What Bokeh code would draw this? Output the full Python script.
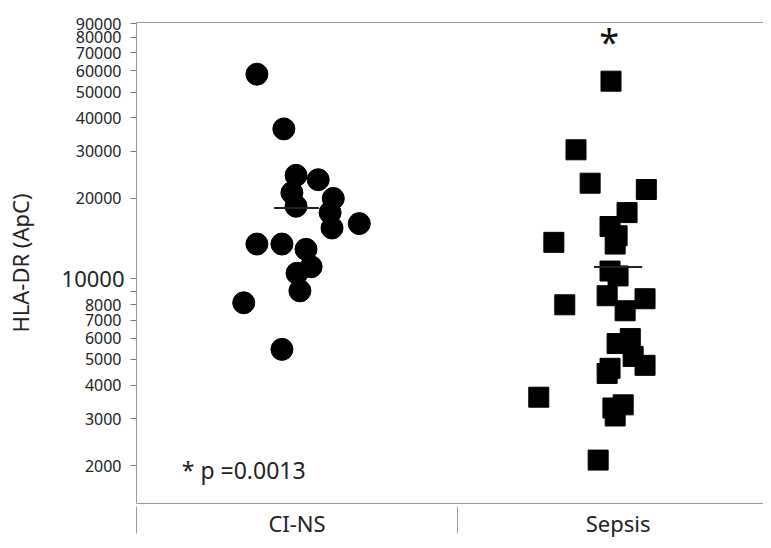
from bokeh.plotting import figure
from bokeh.models import Range1d, FixedTicker, LinearAxis, LogAxis, Label, ColumnDataSource
from bokeh.embed import file_html
from bokeh.resources import INLINE

FONT = "Noto Sans"
INK = "#222222"
GRAY = "#9a9a9a"

categories = ["CI-NS", "Sepsis"]
cat_pos = [0.5, 1.5]
cat_dividers = [0, 1]

# CI-NS (circles): horizontal position (category units) and HLA-DR value
ci_x = [0.375, 0.459, 0.497, 0.566, 0.484, 0.613, 0.497, 0.603, 0.694, 0.609,
        0.375, 0.453, 0.528, 0.544, 0.500, 0.509, 0.334, 0.453]
ci_y = [58300, 36400, 24400, 23500, 21000, 20000, 18700, 17700, 16100, 15500,
        13500, 13500, 12900, 11100, 10500, 9020, 8140, 5450]

# Sepsis (squares)
sep_x = [1.478, 1.369, 1.413, 1.588, 1.528, 1.475, 1.497, 1.300, 1.491, 1.475,
         1.500, 1.466, 1.584, 1.334, 1.522, 1.538, 1.497, 1.547, 1.584, 1.475,
         1.466, 1.253, 1.516, 1.484, 1.491, 1.438]
sep_y = [54900, 30400, 22800, 21600, 17700, 15700, 14500, 13700, 13500, 10700,
         10260, 8650, 8430, 8000, 7600, 5980, 5730, 5130, 4750, 4630,
         4430, 3610, 3380, 3290, 3070, 2100]

# group central value bars
mean_center = [0.498, 1.500]
mean_half = [0.070, 0.075]
mean_val = [18400, 11080]

y_ticks = [2000, 3000, 4000, 5000, 6000, 7000, 8000, 9000, 10000,
           20000, 30000, 40000, 50000, 60000, 70000, 80000, 90000]
y_tick_labels = ["2000", "3000", "4000", "5000", "6000", "7000", "8000", "", "",
                 "20000", "30000", "40000", "50000", "60000", "70000", "80000", "90000"]
big_tick = 10000

p = figure(width=763, height=540, x_range=Range1d(0, 1.953), y_range=Range1d(1445, 91000),
           y_axis_type="log", output_backend="svg", toolbar_location=None,
           min_border_left=136, min_border_right=0, min_border_top=22, min_border_bottom=34)
p.grid.visible = False
p.outline_line_color = None
p.background_fill_color = "white"
p.border_fill_color = "white"

# x axis (category labels with dividers)
xa = p.xaxis[0]
xa.ticker = FixedTicker(ticks=cat_pos, minor_ticks=cat_dividers)
xa.major_label_overrides = {cat_pos[i]: categories[i] for i in range(2)}
xa.major_tick_line_color = None
xa.major_tick_out = 0
xa.major_tick_in = 0
xa.minor_tick_in = -3
xa.minor_tick_out = 30
xa.minor_tick_line_color = GRAY
xa.axis_line_color = GRAY
xa.major_label_standoff = -26
xa.major_label_text_font = FONT
xa.major_label_text_font_size = "22px"
xa.major_label_text_color = INK

# y axis
ya = p.yaxis[0]
ya.ticker = FixedTicker(ticks=y_ticks, minor_ticks=[])
ya.major_label_overrides = {y_ticks[i]: y_tick_labels[i] for i in range(len(y_ticks))}
ya.major_tick_out = 6
ya.major_tick_in = 0
ya.major_tick_line_color = "#777777"
ya.axis_line_color = GRAY
ya.major_label_standoff = 9
ya.major_label_text_font = FONT
ya.major_label_text_font_size = "16px"
ya.major_label_text_color = INK

# second left axis carrying the enlarged "10000" label and the axis title
big = LogAxis(ticker=FixedTicker(ticks=[big_tick], minor_ticks=[]),
              major_label_overrides={big_tick: "10000"},
              axis_line_color=None, major_tick_line_color=None,
              major_tick_out=0, major_tick_in=0, major_label_standoff=-52,
              major_label_text_font=FONT, major_label_text_font_size="22px",
              major_label_text_color=INK,
              axis_label="HLA-DR (ApC)", axis_label_text_font=FONT,
              axis_label_text_font_size="22px", axis_label_text_font_style="normal",
              axis_label_text_color=INK, axis_label_standoff=24)
p.add_layout(big, "left")

# top border line
top = LinearAxis(ticker=FixedTicker(ticks=[]), axis_line_color=GRAY,
                 major_label_text_font_size="0px")
p.add_layout(top, "above")

p.scatter(ci_x, ci_y, marker="circle", size=22, color="black")
p.scatter(sep_x, sep_y, marker="square", size=20, color="black")

src = ColumnDataSource(dict(
    x0=[c - h for c, h in zip(mean_center, mean_half)],
    x1=[c + h for c, h in zip(mean_center, mean_half)],
    y=mean_val))
p.segment(x0="x0", y0="y", x1="x1", y1="y", source=src, line_width=2, line_color=INK)

p.add_layout(Label(x=1.472, y=79400, text="*", text_align="center", text_baseline="middle",
                   text_font=FONT, text_font_size="36px", text_color="#111111", y_offset=-3))
p.add_layout(Label(x=0.141, y=1930, text="* p =0.0013", text_align="left", text_baseline="middle",
                   text_font=FONT, text_font_size="23px", text_color=INK))

open("out.html", "w").write(file_html(p, INLINE))
